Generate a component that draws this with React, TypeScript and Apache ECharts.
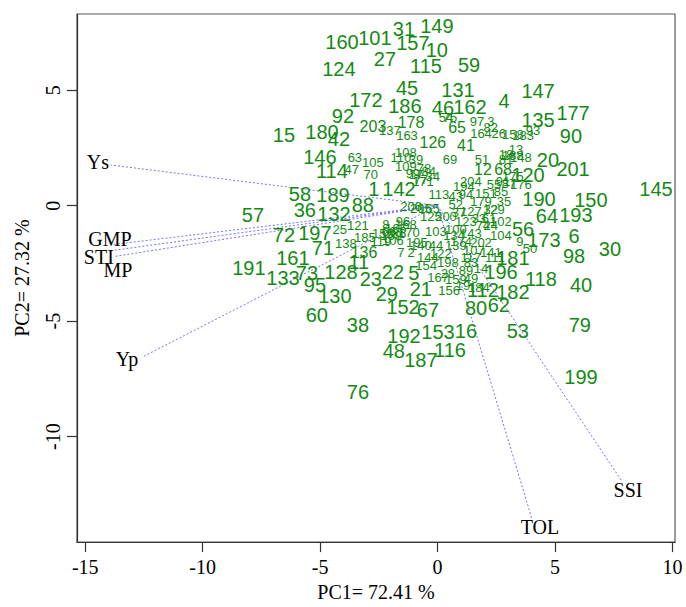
import React, { useEffect, useRef } from "react";
import * as echarts from "echarts";

// ---------------- data ----------------
const genotypes = [
  "160","101","31","149","157","10","124","27","115","59",
  "45","131","172","186","46","162","4","147","177","135",
  "90","92","178","54","203","137","163","15","180","42",
  "126","65","146","63","114","47","70","105","58","189",
  "88","36","132","57","72","197","25","121","71","138",
  "185","161","136","191","133","73","128","95","11","23",
  "22","5","130","60","29","38","152","67","21","156",
  "192","153","16","116","48","187","76","80","62","112",
  "182","196","118","40","79","53","199","30","98","6",
  "173","9","50","56","64","193","190","150","145","181",
  "141","107","202","195","44","174","142","1","113","204",
  "206","129","103","69","41","51","12","68","120","20",
  "201","97","3","164","26","183","87","18","188","109",
  "99","77","84","34","108","2","7","166","168","169",
  "170","8","194","94","43","205","165","125","200","37",
  "127","33","123","74","24","134","100","143","61","110",
  "39","78","17","171","66","86","96","106","119","155",
  "198","83","28","89","19","159","49","14","13","81",
  "148","91","176","55","175","85","151","179","35","82",
  "158","93","32","102","104","111","117","122","139","140",
  "144","154","167","184","75","52",
];

const pc1Scores = [
  -4.07,-2.67,-1.43,-0.03,-1.05,-0.03,-4.20,-2.24,-0.49,1.34,
  -1.30,0.87,-3.05,-1.39,0.23,1.38,2.83,4.28,5.77,4.28,
  5.68,-4.03,-1.13,0.36,-2.75,-2.03,-1.30,-6.54,-4.92,-4.20,
  -0.20,0.83,-5.01,-3.52,-4.50,-3.65,-2.84,-2.75,-5.86,-4.45,
  -3.18,-5.65,-4.41,-7.86,-6.54,-5.22,-4.16,-3.39,-4.88,-3.90,
  -3.09,-6.16,-3.13,-8.03,-6.58,-5.56,-4.11,-5.22,-3.35,-2.84,
  -1.90,-1.01,-4.37,-5.14,-2.16,-3.39,-1.47,-0.41,-0.71,0.49,
  -1.43,0.02,1.21,0.53,-1.86,-0.71,-3.39,1.64,2.61,1.93,
  3.21,2.70,4.40,6.11,6.06,3.42,6.11,7.34,5.81,5.81,
  4.53,3.51,3.94,3.64,4.66,5.89,4.32,6.53,9.30,3.21,
  2.27,1.55,1.85,-0.88,-0.07,1.00,-1.64,-2.71,0.06,1.42,
  -1.13,2.40,-0.07,0.53,1.21,1.89,1.93,2.79,3.85,4.70,
  5.77,1.68,2.27,1.85,2.61,3.64,3.04,2.91,3.21,-1.35,
  -1.05,-0.71,-0.37,-0.20,-1.35,-1.13,-1.56,-1.77,-1.35,-1.98,
  -1.22,-2.20,1.12,1.21,0.78,-0.71,-0.37,-0.28,0.36,0.91,
  1.42,1.76,1.21,1.93,2.27,0.70,0.78,1.42,2.19,-1.56,
  -0.92,-0.58,-0.92,-0.62,-2.07,-1.64,-1.47,-1.90,-2.41,-2.33,
  0.44,1.42,0.44,1.21,1.08,0.78,1.42,1.85,3.34,2.91,
  3.55,2.79,3.55,2.40,3.21,2.70,2.06,1.85,2.83,2.27,
  3.21,4.06,2.27,2.70,2.70,2.44,1.42,0.14,0.78,-0.71,
  -0.41,-0.49,0.02,1.76,0.53,0.78,
];

const pc2Scores = [
  7.09,7.27,7.65,7.78,7.05,6.75,5.90,6.33,6.03,6.07,
  5.09,5.00,4.58,4.32,4.24,4.27,4.53,4.96,4.02,3.72,
  3.00,3.90,3.60,3.81,3.43,3.25,3.04,3.04,3.21,2.87,
  2.74,3.38,2.10,2.10,1.51,1.55,1.34,1.89,0.52,0.48,
  0.01,-0.20,-0.37,-0.42,-1.27,-1.18,-1.05,-0.88,-1.82,-1.65,
  -1.40,-2.27,-2.03,-2.72,-3.14,-2.93,-2.89,-3.44,-2.46,-3.19,
  -2.89,-2.93,-3.91,-4.72,-3.83,-5.15,-4.38,-4.51,-3.61,-3.66,
  -5.66,-5.49,-5.41,-6.26,-6.30,-6.68,-8.05,-4.42,-4.30,-3.66,
  -3.74,-2.89,-3.19,-3.44,-5.15,-5.44,-7.42,-1.86,-2.16,-1.31,
  -1.48,-1.57,-1.86,-1.01,-0.46,-0.41,0.31,0.23,0.74,-2.26,
  -2.03,-1.95,-1.61,-1.61,-1.74,-1.56,0.70,0.74,0.48,1.04,
  -0.03,-0.16,-1.10,2.02,2.61,2.02,1.55,1.55,1.34,1.98,
  1.59,3.64,3.64,3.13,3.13,3.04,0.95,2.23,2.19,1.68,
  1.38,1.12,1.46,1.25,2.32,-2.03,-2.03,-0.97,-0.80,-1.31,
  -1.18,-0.80,0.82,0.48,0.40,-0.12,-0.12,-0.46,-0.46,-0.29,
  -0.24,-0.54,-0.67,-0.88,-0.88,-1.31,-1.05,-1.22,-0.54,2.10,
  1.98,1.59,1.34,1.04,-1.10,-1.22,-0.67,-1.52,-1.57,-1.22,
  -2.46,-2.46,-2.93,-2.80,-3.44,-3.19,-3.14,-2.72,2.44,2.02,
  2.10,1.04,0.91,0.91,1.25,0.61,0.52,0.18,0.18,3.38,
  3.08,3.25,-0.16,-0.67,-1.31,-2.26,-2.26,-2.08,-1.74,-1.74,
  -2.26,-2.59,-3.10,-3.53,3.81,0.05,
];

const traitNames = ["Ys", "GMP", "STI", "MP", "Yp", "TOL", "SSI"];
const traitTipPC1 = [-13.91, -13.8, -13.9, -13.75, -12.54, 4.02, 7.82];
const traitTipPC2 = [1.76, -1.68, -1.95, -2.2, -6.54, -13.57, -11.89];
const traitLabelPC1 = [-14.46, -13.95, -14.42, -13.61, -13.22, 4.36, 8.11];
const traitLabelPC2 = [1.89, -1.43, -2.24, -2.8, -6.66, -13.9, -12.33];

const xTicks = [-15, -10, -5, 0, 5, 10];
const yTicks = [-10, -5, 0, 5];
const xTitle = "PC1= 72.41 %";
const yTitle = "PC2= 27.32 %";

// ---------------- styles ----------------
const smallLabels = new Set([
  "54","137","163","63","47","70","105","25","121","138","185","156","9","50",
  "141","107","202","195","44","174","113","204","206","129","103","69","51",
  "97","3","164","26","183","87","18","188","109","99","77","84","34","108",
  "2","7","166","168","169","170","8","194","94","43","205","165","125","200",
  "37","127","33","123","74","24","134","100","143","61","110","39","78","17",
  "171","66","86","96","106","119","155","198","83","28","89","19","159","49",
  "14","13","81","148","91","176","55","175","85","151","179","35","82","158",
  "93","32","102","104","111","117","122","139","140","144","154","167","184",
  "75","52",
]);
const midLabels = new Set(["178", "203", "126", "65", "136", "41", "12", "68"]);

const GREEN = "#138a13";
const ARROW = "#7474ff";
const SERIF = "'Liberation Serif', 'Times New Roman', serif";
const SANS = "'Liberation Sans', Arial, sans-serif";

export default function App() {
  const ref = useRef<HTMLDivElement>(null);

  useEffect(() => {
    if (!ref.current) return;
    const chart = echarts.init(ref.current, undefined, { renderer: "svg" });

    const pointData = genotypes.map((g, i) => ({
      name: g,
      value: [pc1Scores[i], pc2Scores[i]],
      label: {
        fontSize: smallLabels.has(g) ? 13 : midLabels.has(g) ? 16 : 20,
      },
    }));

    const arrowSeries = traitNames.map((t, i) => ({
      type: "line" as const,
      name: t,
      data: [
        [0, 0],
        [traitTipPC1[i], traitTipPC2[i]],
      ],
      showSymbol: false,
      symbol: "none",
      silent: true,
      z: 1,
      lineStyle: { color: ARROW, width: 1, type: [2, 2] as any },
    }));

    const traitData = traitNames.map((t, i) => ({
      name: t,
      value: [traitLabelPC1[i], traitLabelPC2[i]],
    }));

    chart.setOption({
      animation: false,
      backgroundColor: "#ffffff",
      grid: {
        left: 77,
        right: 11,
        top: 14,
        bottom: 56,
        show: true,
        borderColor: "#5a5a5a",
        borderWidth: 1.2,
        backgroundColor: "transparent",
      },
      xAxis: {
        type: "value",
        min: -15.35,
        max: 10.11,
        axisLine: { show: true, onZero: false, lineStyle: { color: "#333", width: 1.2 } },
        axisTick: {
          show: true,
          customValues: xTicks,
          length: 10,
          lineStyle: { color: "#333", width: 1.2 },
        },
        axisLabel: {
          customValues: xTicks,
          margin: 15,
          color: "#000",
          fontFamily: SERIF,
          fontSize: 20,
        },
        splitLine: { show: false },
        name: xTitle,
        nameLocation: "middle",
        nameGap: 36,
        nameTextStyle: { color: "#000", fontFamily: SERIF, fontSize: 20 },
      },
      yAxis: {
        type: "value",
        min: -14.57,
        max: 8.3,
        axisLine: { show: true, onZero: false, lineStyle: { color: "#333", width: 1.2 } },
        axisTick: {
          show: true,
          customValues: yTicks,
          length: 10,
          lineStyle: { color: "#333", width: 1.2 },
        },
        axisLabel: {
          customValues: yTicks,
          rotate: 90,
          margin: 14,
          color: "#000",
          fontFamily: SERIF,
          fontSize: 20,
        },
        splitLine: { show: false },
        name: yTitle,
        nameLocation: "middle",
        nameRotate: 90,
        nameGap: 45,
        nameTextStyle: { color: "#000", fontFamily: SERIF, fontSize: 20 },
      },
      series: [
        ...arrowSeries,
        {
          type: "scatter",
          name: "genotypes",
          data: pointData,
          symbolSize: 0,
          itemStyle: { color: GREEN, opacity: 1 },
          silent: true,
          z: 3,
          label: {
            show: true,
            position: "inside",
            formatter: "{b}",
            color: GREEN,
            textBorderWidth: 0,
            textBorderColor: "transparent",
            fontFamily: SANS,
            fontSize: 20,
          },
          labelLayout: { hideOverlap: false },
        },
        {
          type: "scatter",
          name: "traits",
          data: traitData,
          symbolSize: 0,
          itemStyle: { color: "#000", opacity: 1 },
          silent: true,
          z: 4,
          label: {
            show: true,
            position: "inside",
            formatter: "{b}",
            color: "#000",
            textBorderWidth: 0,
            textBorderColor: "transparent",
            fontFamily: SERIF,
            fontSize: 20,
          },
        },
      ],
    });

    return () => chart.dispose();
  }, []);

  return (
    <div
      ref={ref}
      style={{ position: "fixed", left: 0, top: 0, width: 686, height: 607 }}
    />
  );
}
